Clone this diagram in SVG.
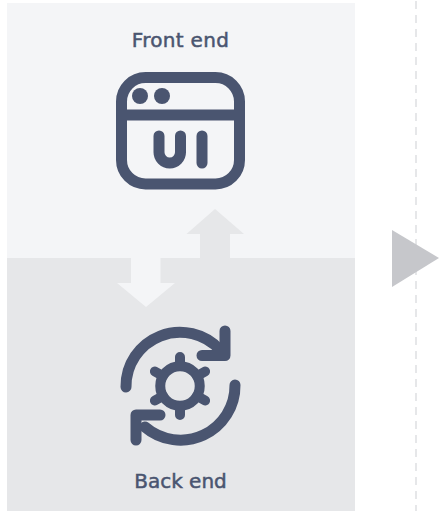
<svg xmlns="http://www.w3.org/2000/svg" width="439" height="511" viewBox="0 0 439 511">
  <style>
    .label { font-family: "DejaVu Sans", sans-serif; font-size: 20px; fill: #4a5570; stroke: #4a5570; stroke-width: 0.5px; text-anchor: middle; }
    .ico { fill: none; stroke: #4a5570; stroke-width: 11px; stroke-linecap: round; stroke-linejoin: round; }
    .gear { stroke-width: 10px; }
  </style>
  <rect width="439" height="511" fill="#ffffff"/>
  <line id="divider" x1="416" y1="1" x2="416" y2="511" stroke="#e6e7e9" stroke-width="2" stroke-dasharray="8 6"/>
  <g id="front-end">
    <rect x="7" y="3" width="348" height="255" fill="#f4f5f7"/>
    <text class="label" x="180.500" y="47" letter-spacing="0.3">Front end</text>
    <g id="ui-icon">
      <rect class="ico" x="121.500" y="77.500" width="118" height="106.500" rx="24"/>
      <line class="ico" x1="121.500" y1="115" x2="239.500" y2="115"/>
      <circle cx="140" cy="96" r="8" fill="#4a5570"/>
      <circle cx="162" cy="96" r="8" fill="#4a5570"/>
      <path class="ico" d="M159 136V152.300a10.750 10.750 0 0 0 21.500 0V136"/>
      <line class="ico" x1="202" y1="136" x2="202" y2="163"/>
    </g>
  </g>
  <g id="back-end">
    <rect x="7" y="258" width="348" height="253" fill="#e6e7e9"/>
    <text class="label" x="180.500" y="488">Back end</text>
    <g id="gear-icon">
      <circle class="ico gear" cx="180" cy="386" r="19.750"/>
      <path class="ico gear" d="M180 366V357M180 406V415M197.100 376L205.100 371.500M162.900 396L154.900 400.500M197.100 396L205.100 400.500M162.900 376L154.900 371.500"/>
      <path class="ico" d="M126 387A54 54 0 0 1 220 350"/>
      <path class="ico" d="M225 331V355.500H202"/>
      <path class="ico" d="M235 385A54.500 54.500 0 0 1 145 427"/>
      <path class="ico" d="M160 415H136V440"/>
    </g>
  </g>
  <g id="connectors">
    <polygon id="arrow-up" points="215,209 244,234 230,234 230,258 200,258 200,234 186.500,234" fill="#e6e7e9"/>
    <polygon id="arrow-down" points="146,307 175,283 160.500,283 160.500,258 131,258 131,283 117,283" fill="#f4f5f7"/>
    <polygon id="arrow-next" points="392,230 439,258 392,287" fill="#c6c7cb"/>
  </g>
</svg>
